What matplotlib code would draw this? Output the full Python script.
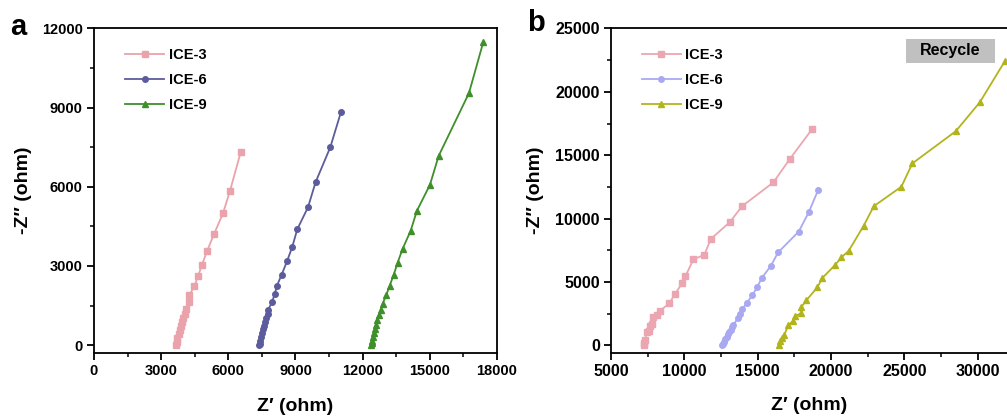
import matplotlib
matplotlib.use("Agg")
import matplotlib.pyplot as plt
from matplotlib.patches import Rectangle
from matplotlib.ticker import MultipleLocator

plt.rcParams['font.family'] = ['Liberation Sans', 'DejaVu Sans']
plt.rcParams['font.weight'] = 'bold'

# panel a
a3_x = [6550, 6074, 5762, 5360, 5062, 4824, 4645, 4482, 4258, 4228, 4109, 4064, 3990, 3930,
        3871, 3826, 3781, 3722, 3692, 3648]
a3_y = [7300, 5837, 4993, 4201, 3585, 3044, 2604, 2226, 1899, 1623, 1371, 1195, 1019, 868,
        717, 566, 415, 252, 126, 0]
a6_x = [11032, 10555, 9900, 9558, 9081, 8858, 8620, 8383, 8173, 8070, 7950, 7786, 7757, 7696,
        7651, 7606, 7562, 7517, 7473, 7428, 7398, 7383]
a6_y = [8830, 7497, 6176, 5220, 4390, 3723, 3170, 2667, 2252, 1925, 1623, 1346, 1195, 1044,
        893, 742, 591, 440, 289, 164, 38, 0]
a9_x = [17389, 16748, 15395, 15007, 14426, 14143, 13785, 13562, 13383, 13204, 13055, 12894,
        12805, 12729, 12654, 12595, 12550, 12505, 12461, 12431, 12401, 12371]
a9_y = [11484, 9547, 7170, 6075, 5094, 4327, 3648, 3120, 2654, 2239, 1899, 1572,
        1346, 1145, 943, 767, 591, 440, 289, 164, 63, 0]

# panel b (recycle)
b3_x = [18708, 17187, 16072, 13934, 13116, 11797, 11366, 10615, 10070, 9864, 9346, 8978,
        8364, 8118, 7844, 7776, 7683, 7615, 7433, 7319, 7274, 7251]
b3_y = [17056, 14698, 12864, 10980, 9746, 8384, 7153, 6786, 5450, 4925, 4035, 3327,
        2751, 2384, 2253, 1703, 1493, 1126, 1074, 393, 183, 0]
b6_x = [19117, 18483, 17801, 16389, 15892, 15278, 14957, 14637, 14275, 13955, 13775, 13641,
        13340, 13252, 13162, 13071, 12979, 12890, 12797, 12707, 12638, 12592]
b6_y = [12238, 10509, 8984, 7333, 6264, 5321, 4583, 3954, 3380, 2855, 2489, 2148,
        1598, 1441, 1231, 1048, 865, 655, 472, 288, 131, 0]
b9_x = [31871, 30145, 28508, 25549, 24798, 22916, 22234, 21211, 20707, 20277, 19411, 19070,
        18320, 17979, 17979, 17569, 17392, 17092, 16800, 16683, 16526, 16437]
b9_y = [22455, 19178, 16899, 14360, 12521, 10980, 9458, 7467, 6942, 6343, 5321, 4583,
        3563, 3040, 2541, 2332, 1913, 1598, 800, 577, 315, 0]

labels = ['ICE-3', 'ICE-6', 'ICE-9']

fig = plt.figure(figsize=(10.07, 4.19), dpi=100)
ax1 = fig.add_axes([0.0933, 0.1575, 0.4002, 0.7745])
ax2 = fig.add_axes([0.6068, 0.1575, 0.3932, 0.7745])

ax1.plot(a3_x, a3_y, '-s', color='#eba3ab', ms=4, lw=1.3, label=labels[0])
ax1.plot(a6_x, a6_y, '-o', color='#5c5c9c', ms=4, lw=1.3, label=labels[1])
ax1.plot(a9_x, a9_y, '-^', color='#3f8f2b', ms=4.5, lw=1.3, label=labels[2])

ax2.plot(b3_x, b3_y, '-s', color='#eba6b2', ms=4, lw=1.3, label=labels[0])
ax2.plot(b6_x, b6_y, '-o', color='#a9a9f2', ms=4, lw=1.3, label=labels[1])
ax2.plot(b9_x, b9_y, '-^', color='#b2b41e', ms=4.5, lw=1.3, label=labels[2])

ax1.set_xlim(0, 18000)
ax1.set_ylim(-300, 12000)
ax1.xaxis.set_major_locator(MultipleLocator(3000))
ax1.xaxis.set_minor_locator(MultipleLocator(1500))
ax1.yaxis.set_major_locator(MultipleLocator(3000))
ax1.yaxis.set_minor_locator(MultipleLocator(1500))

ax2.set_xlim(5000, 32000)
ax2.set_ylim(-600, 25000)
ax2.xaxis.set_major_locator(MultipleLocator(5000))
ax2.xaxis.set_minor_locator(MultipleLocator(2500))
ax2.yaxis.set_major_locator(MultipleLocator(5000))
ax2.yaxis.set_minor_locator(MultipleLocator(2500))
ax2.spines['right'].set_visible(False)

for ax, tsize, xpad, ypad in ((ax1, 10.5, 14, 7.5), (ax2, 11.5, 13, 8.5)):
    for s in ax.spines.values():
        s.set_linewidth(1.3)
    ax.tick_params(which='major', direction='out', length=5, width=1.3, labelsize=tsize, pad=3)
    ax.tick_params(which='minor', direction='out', length=3, width=1.1)
    for t in ax.get_xticklabels() + ax.get_yticklabels():
        t.set_fontweight('bold')
    ax.set_xlabel('Z\u2032 (ohm)', fontsize=14, fontweight='bold', labelpad=xpad)
    ax.set_ylabel('-Z\u2033 (ohm)', fontsize=14, fontweight='bold', labelpad=ypad)
    ax.legend(loc='upper left', bbox_to_anchor=(0.077, 0.94), frameon=False,
              handlelength=2.7, handletextpad=0.3, labelspacing=0.75,
              borderaxespad=0, borderpad=0, prop={'size': 10.5, 'weight': 'bold'})

ax2.add_patch(Rectangle((0.745, 0.895), 0.225, 0.074, transform=ax2.transAxes,
                        facecolor='#c0c0c0', edgecolor='none', zorder=3))
ax2.text(0.857, 0.932, 'Recycle', transform=ax2.transAxes, ha='center', va='center',
         fontsize=11.5, fontweight='bold', zorder=4)

fig.text(0.01, 0.935, 'a', fontsize=21, fontweight='bold', va='center')
fig.text(0.523, 0.945, 'b', fontsize=21, fontweight='bold', va='center')

fig.savefig('out.png', dpi=100)
